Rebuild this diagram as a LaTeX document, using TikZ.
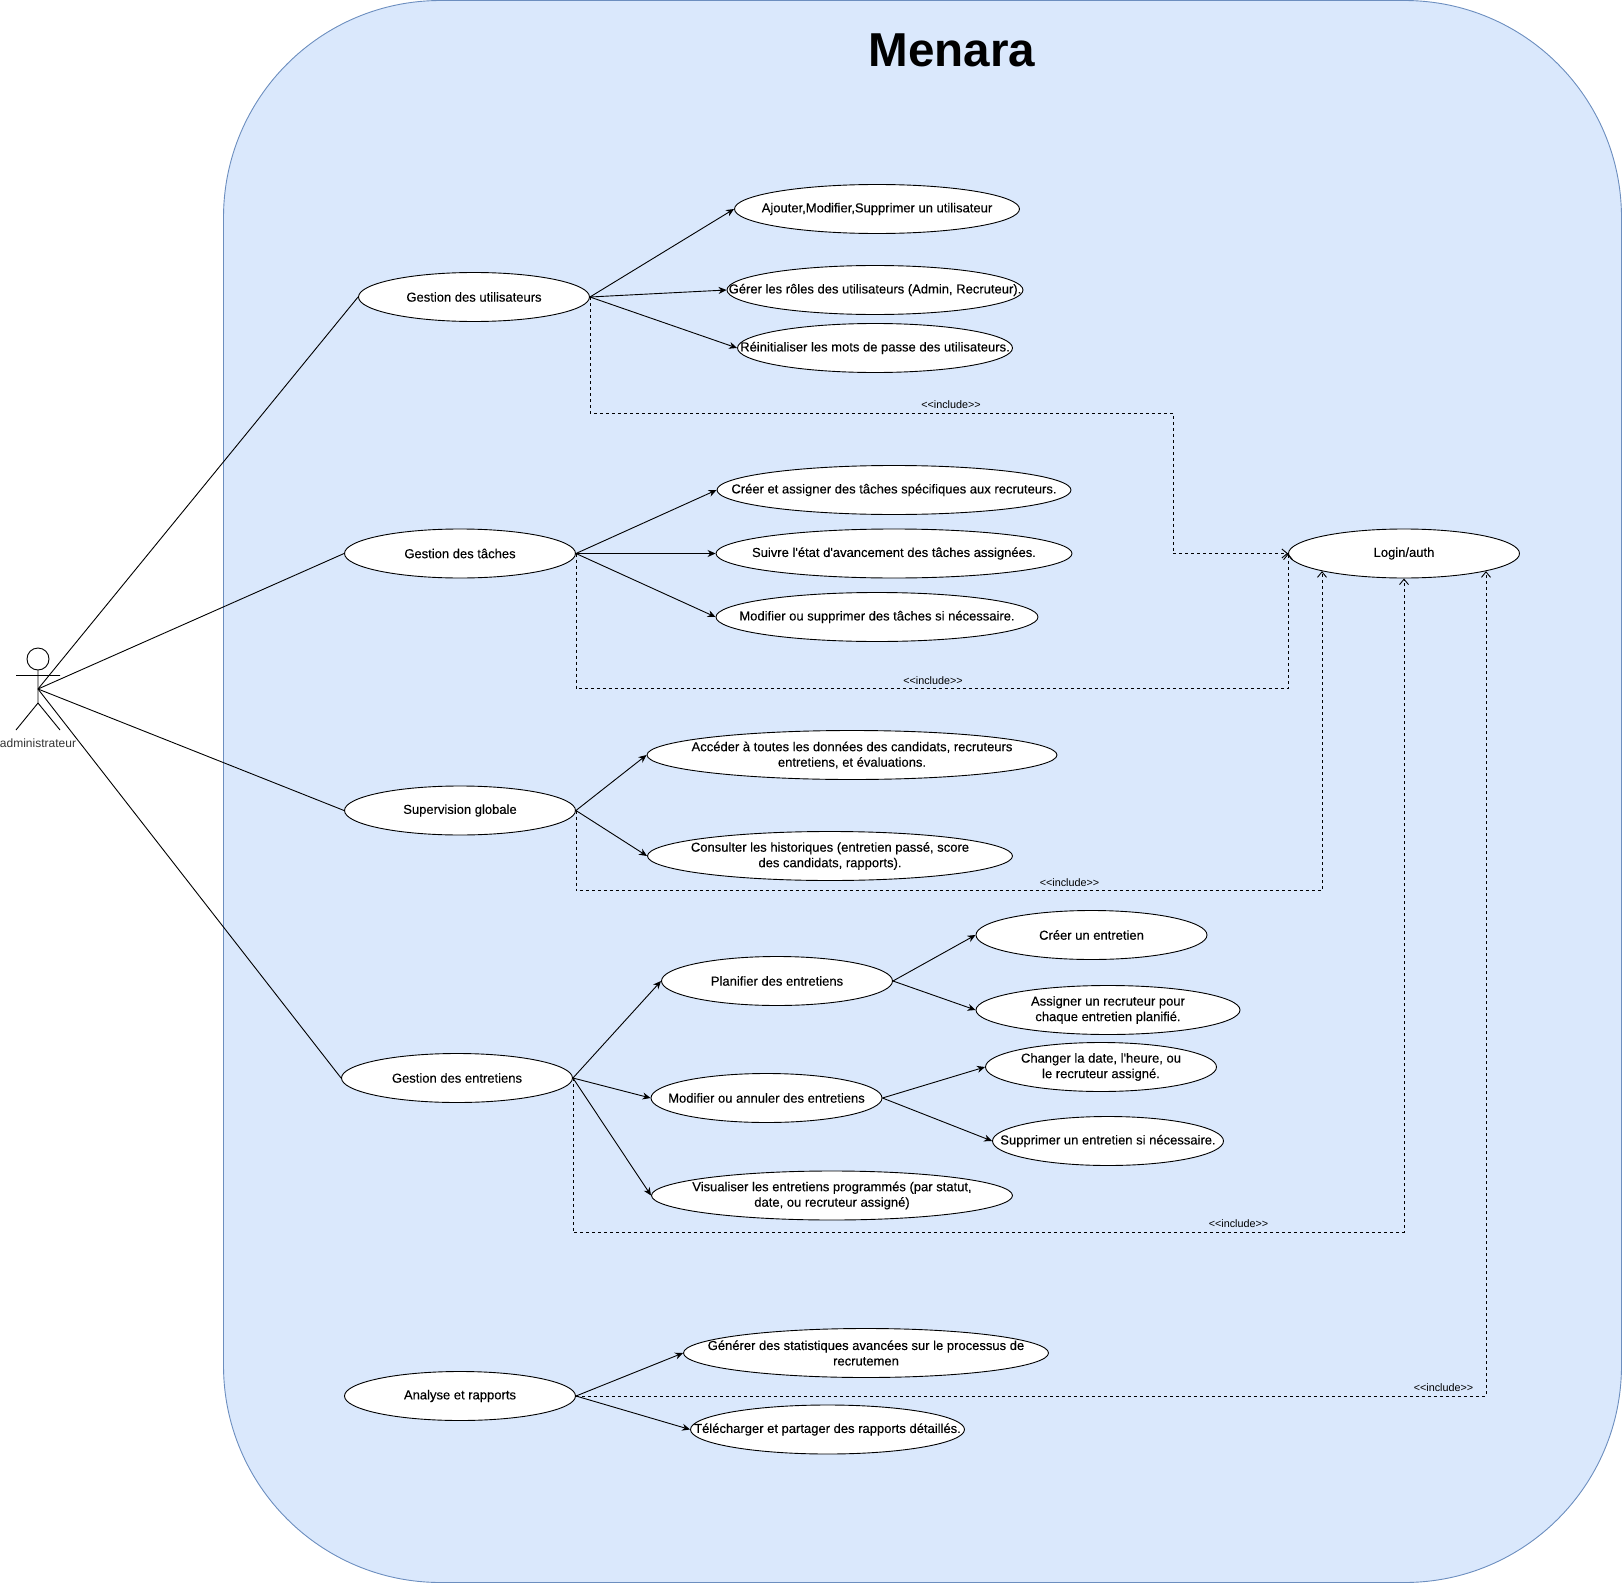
\documentclass[tikz,border=0pt]{standalone}
\usepackage{fontspec}
\setmainfont{Liberation Sans}
\newfontfamily\casefont[FakeBold=0.2]{Liberation Sans}
\usetikzlibrary{arrows.meta,shapes.geometric}
\definecolor{sky}{HTML}{DAE8FC}
\definecolor{steel}{HTML}{6C8EBF}
\tikzset{
  >={Stealth[length=8pt,width=7pt]},
  usecase/.style={ellipse,draw,line width=0.9pt,fill=white,inner xsep=-70pt,inner ysep=-12pt,
    minimum width=231pt,minimum height=49pt,align=center,font=\casefont\fontsize{13}{15.5}\selectfont},
  flow/.style={->,line width=0.9pt},
  assoc/.style={line width=0.9pt},
  incl/.style={-{Straight Barb[length=5.5pt,width=9pt]},line width=0.9pt,dash pattern=on 3pt off 3pt},
  tag/.style={font=\fontsize{10.8}{12}\selectfont},
  % pictograms
  pics/actor/.style={code={
    \draw[line width=0.9pt] (0,0) circle (11);
    \draw[line width=0.9pt] (0,11) -- (0,44) (-22,16.5) -- (22,16.5) (-22,71) -- (0,44) -- (22,71);
  }},
}
\begin{document}
\begin{tikzpicture}[x=1pt,y=-1pt]
        \useasboundingbox (0,0) rectangle (1623,1584);
        \fill[sky,draw=steel,line width=0.9pt,rounded corners=217pt] (223.5,0.5) rectangle (1621.5,1582.5);
        \node[font=\bfseries\fontsize{47.6}{50}\selectfont] (title) at (952,50) {Menara};
        % actor
        \pic at (38,659) {actor};
        \coordinate (admin) at (38,689);
        \node[font=\fontsize{12}{14}\selectfont,text=black!80] (adminlbl) at (38,743.5) {administrateur};
        % use cases
        \node[usecase] (users) at (474,297) {Gestion des utilisateurs};
        \node[usecase,minimum width=285pt] (u1) at (877,209) {Ajouter,Modifier,Supprimer un utilisateur};
        \node[usecase,minimum width=296pt] (u2) at (875,290) {Gérer les rôles des utilisateurs (Admin, Recruteur).};
        \node[usecase,minimum width=275pt] (u3) at (875,348) {Réinitialiser les mots de passe des utilisateurs.};
        \node[usecase] (tasks) at (460,553.5) {Gestion des tâches};
        \node[usecase,minimum width=354pt] (t1) at (894,490) {Créer et assigner des tâches spécifiques aux recruteurs.};
        \node[usecase,minimum width=356pt] (t2) at (894,553.5) {Suivre l'état d'avancement des tâches assignées.};
        \node[usecase,minimum width=322pt] (t3) at (877,617) {Modifier ou supprimer des tâches si nécessaire.};
        \node[usecase] (sup) at (460,810.5) {Supervision globale};
        \node[usecase,minimum width=410pt] (s1) at (852,755) {Accéder à toutes les données des candidats, recruteurs\\entretiens, et évaluations.};
        \node[usecase,minimum width=365pt] (s2) at (830,856) {Consulter les historiques (entretien passé, score\\des candidats, rapports).};
        \node[usecase] (itv) at (457,1078) {Gestion des entretiens};
        \node[usecase] (plan) at (777,981) {Planifier des entretiens};
        \node[usecase] (edit) at (766.5,1098) {Modifier ou annuler des entretiens};
        \node[usecase,minimum width=361pt] (view) at (832,1195.5) {Visualiser les entretiens programmés (par statut,\\date, ou recruteur assigné)};
        \node[usecase] (p1) at (1091.5,935) {Créer un entretien};
        \node[usecase,minimum width=264pt] (p2) at (1108,1010) {Assigner un recruteur pour\\chaque entretien planifié.};
        \node[usecase] (e1) at (1101,1067) {Changer la date, l'heure, ou\\le recruteur assigné.};
        \node[usecase] (e2) at (1108,1141) {Supprimer un entretien si nécessaire.};
        \node[usecase] (rep) at (460,1396) {Analyse et rapports};
        \node[usecase,minimum width=365pt] (r1) at (866,1353) {Générer des statistiques avancées sur le processus de\\recrutemen};
        \node[usecase,minimum width=274pt] (r2) at (827.5,1429.5) {Télécharger et partager des rapports détaillés.};
        \node[usecase] (login) at (1404,553.5) {Login/auth};
        % actor links
        \draw[assoc] (admin) -- (users.west);
        \draw[assoc] (admin) -- (tasks.west);
        \draw[assoc] (admin) -- (sup.west);
        \draw[assoc] (admin) -- (itv.west);
        % flows
        \foreach \to in {u1,u2,u3} \draw[flow] (users.east) -- (\to.west);
        \foreach \to in {t1,t2,t3} \draw[flow] (tasks.east) -- (\to.west);
        \foreach \to in {s1,s2} \draw[flow] (sup.east) -- (\to.west);
        \foreach \to in {plan,edit,view} \draw[flow] (itv.east) -- (\to.west);
        \foreach \to in {p1,p2} \draw[flow] (plan.east) -- (\to.west);
        \foreach \to in {e1,e2} \draw[flow] (edit.east) -- (\to.west);
        \foreach \to in {r1,r2} \draw[flow] (rep.east) -- (\to.west);
        % includes
        \coordinate (bend) at (1173,413);
        \draw[incl] (users.east) |- (bend) |- (login.west);
        \node[tag] (inc1) at (951,404.5) {<{}<include>{}>};
        \draw[incl] (tasks.east) -- ++(0,135) -| (login.west);
        \node[tag] (inc2) at (933,680.5) {<{}<include>{}>};
        \draw[incl] (sup.east) -- ++(0,80) -| (login.south west);
        \node[tag] (inc3) at (1069.5,882.5) {<{}<include>{}>};
        \draw[incl] (itv.east) -- ++(0,154.5) -| (login.south);
        \node[tag] (inc4) at (1238.5,1224) {<{}<include>{}>};
        \draw[incl] (rep.east) -| (login.south east);
        \node[tag] (inc5) at (1443.5,1388) {<{}<include>{}>};
      \end{tikzpicture}
\end{document}
